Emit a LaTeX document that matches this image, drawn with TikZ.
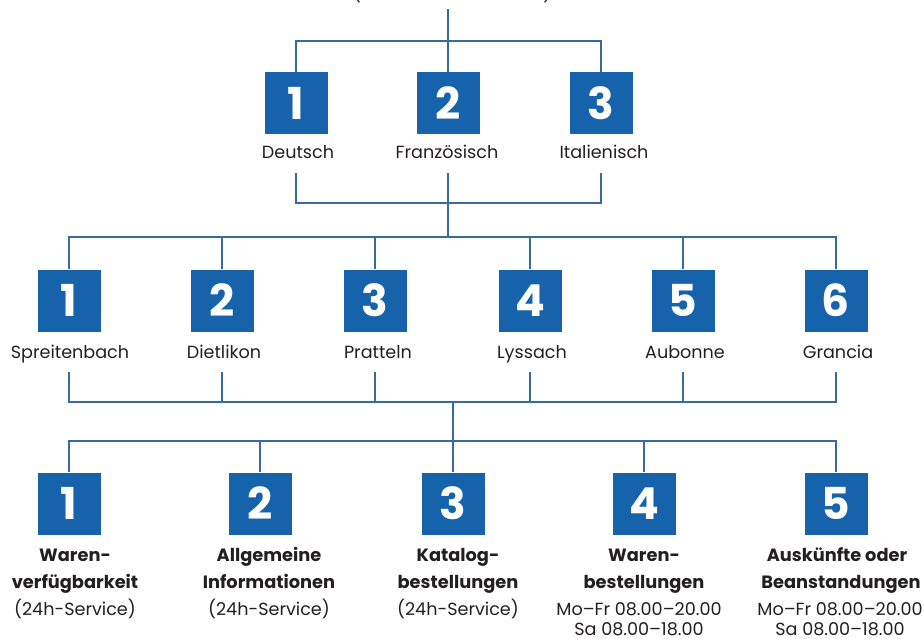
\documentclass[tikz,border=0pt]{standalone}
\usepackage{fontspec}
\setmainfont{Poppins}
\definecolor{boxblue}{RGB}{22,99,172}
\definecolor{lineblue}{RGB}{55,106,162}
\definecolor{txt}{RGB}{35,31,32}
\begin{document}
\begin{tikzpicture}[x=1pt,y=-1pt,
  numbox/.style={fill=boxblue, minimum width=63pt, minimum height=62pt, inner sep=0pt,
    text=white, font=\fontsize{44}{44}\selectfont\bfseries},
  lbl/.style={text=txt, inner sep=0pt, anchor=base, font=\fontsize{17.6}{22}\selectfont},
  bl/.style={text=txt, inner sep=0pt, anchor=base, font=\fontsize{17.8}{22}\selectfont\bfseries},
  conn/.style={draw=lineblue, line width=2.5pt, line join=miter}]
\useasboundingbox (0,0) rectangle (924,638);
% clipped top text
\node[lbl] (pl) at (357,-1) {(};
\node[lbl] (pr) at (547,-1) {)};
% level 1
\node[numbox] (a1) at (296,103) {1};
\node[numbox] (a2) at (448,103) {2};
\node[numbox] (a3) at (601,103) {3};
\node[lbl] (la1) at (298,158.5) {Deutsch};
\node[lbl] (la2) at (447,158.5) {Französisch};
\node[lbl] (la3) at (604,158.5) {Italienisch};
% level 2
\node[numbox] (b1) at (69,300.5) {1};
\node[numbox] (b2) at (222,300.5) {2};
\node[numbox] (b3) at (375,300.5) {3};
\node[numbox] (b4) at (530,300.5) {4};
\node[numbox] (b5) at (683,300.5) {5};
\node[numbox] (b6) at (836,300.5) {6};
\node[lbl] (lb1) at (70,358.5) {Spreitenbach};
\node[lbl] (lb2) at (224,358.5) {Dietlikon};
\node[lbl] (lb3) at (378,358.5) {Pratteln};
\node[lbl] (lb4) at (532,358.5) {Lyssach};
\node[lbl] (lb5) at (685,358.5) {Aubonne};
\node[lbl] (lb6) at (838,358.5) {Grancia};
% level 3
\node[numbox] (c1) at (69,503.5) {1};
\node[numbox] (c2) at (260,503.5) {2};
\node[numbox] (c3) at (453,503.5) {3};
\node[numbox] (c4) at (644,503.5) {4};
\node[numbox] (c5) at (836,503.5) {5};
\node[bl] (lc1a) at (75,561.5) {Waren-};
\node[bl] (lc1b) at (75,588.5) {verfügbarkeit};
\node[lbl] (lc1c) at (75,615) {(24h-Service)};
\node[bl] (lc2a) at (269,561.5) {Allgemeine};
\node[bl] (lc2b) at (269,588.5) {Informationen};
\node[lbl] (lc2c) at (269,615) {(24h-Service)};
\node[bl] (lc3a) at (458,561.5) {Katalog-};
\node[bl] (lc3b) at (458,588.5) {bestellungen};
\node[lbl] (lc3c) at (458,615) {(24h-Service)};
\node[bl] (lc4a) at (644,561.5) {Waren-};
\node[bl] (lc4b) at (644,588.5) {bestellungen};
\node[lbl] (lc4c) at (639,615) {Mo–Fr 08.00–20.00};
\node[lbl] (lc4d) at (639,635.5) {Sa 08.00–18.00};
\node[bl] (lc5a) at (837,561.5) {Auskünfte oder};
\node[bl] (lc5b) at (841,588.5) {Beanstandungen};
\node[lbl] (lc5c) at (840,615) {Mo–Fr 08.00–20.00};
\node[lbl] (lc5d) at (840,635.5) {Sa 08.00–18.00};
% bars
\coordinate (t0) at (448,9);
\coordinate (bar0) at (448,41);
\coordinate (u1) at (0,173);
\coordinate (bar1) at (0,203);
\coordinate (bar2) at (0,237);
\coordinate (u2) at (0,372);
\coordinate (bar3) at (0,402);
\coordinate (bar4) at (0,441);
% connectors level 0 -> 1
\draw[conn] (t0) -- (a2.north);
\draw[conn] (a1.north) -- (a1.north |- bar0) -- (a3.north |- bar0) -- (a3.north);
% level 1 -> 2
\draw[conn] (a1 |- u1) -- (a1 |- bar1) -- (a3 |- bar1) -- (a3 |- u1);
\draw[conn] (a2 |- u1) -- (a2 |- bar2);
\draw[conn] (b1.north) -- (b1.north |- bar2) -- (b6.north |- bar2) -- (b6.north);
\foreach \n in {b2,b3,b4,b5} \draw[conn] (\n.north |- bar2) -- (\n.north);
% level 2 -> 3
\draw[conn] (b1 |- u2) -- (b1 |- bar3) -- (b6 |- bar3) -- (b6 |- u2);
\foreach \n in {b2,b3,b4,b5} \draw[conn] (\n |- u2) -- (\n |- bar3);
\draw[conn] (c3 |- bar3) -- (c3.north);
\draw[conn] (c1.north) -- (c1.north |- bar4) -- (c5.north |- bar4) -- (c5.north);
\foreach \n in {c2,c4} \draw[conn] (\n.north |- bar4) -- (\n.north);
\end{tikzpicture}
\end{document}
